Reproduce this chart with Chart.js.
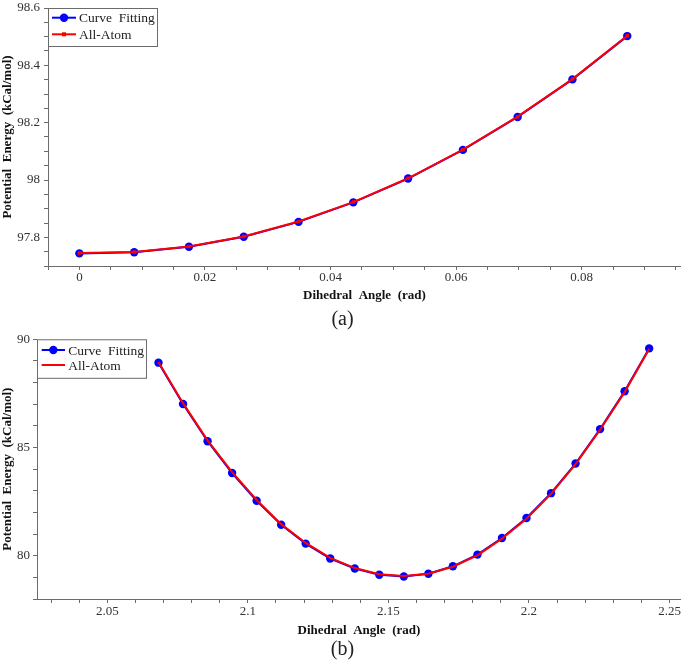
<!DOCTYPE html>
<html>
<head>
<meta charset="utf-8">
<script src="https://cdn.jsdelivr.net/npm/chart.js@4.4.1/dist/chart.umd.min.js"></script>
<style>
  body { margin:0; background:#fff; width:685px; height:664px; overflow:hidden; position:relative; font-family:"Liberation Serif","Times New Roman",serif; }
  canvas { position:absolute; left:0; }
  #chart-a { top:0; }
  #chart-b { top:330px; }
  .cap { position:absolute; left:0; width:685px; text-align:center; font-size:20px; line-height:20px; color:#222; }
</style>
</head>
<body>
<canvas id="chart-a" width="685" height="308"></canvas>
<div class="cap" style="top:308px">(a)</div>
<canvas id="chart-b" width="685" height="308"></canvas>
<div class="cap" style="top:638px">(b)</div>
<script>
// (a) small angles, (b) around the minimum
const angleA = [0, 0.00873, 0.01745, 0.02618, 0.03491, 0.04363, 0.05236, 0.06109, 0.06981, 0.07854, 0.08727];
const fitA   = [97.744, 97.748, 97.767, 97.802, 97.854, 97.922, 98.005, 98.105, 98.220, 98.351, 98.502];
const atomA  = [97.745, 97.749, 97.768, 97.803, 97.855, 97.923, 98.006, 98.106, 98.221, 98.352, 98.503];

const angleB = [2.06821, 2.07694, 2.08567, 2.09440, 2.10312, 2.11185, 2.12057, 2.12930, 2.13803, 2.14675, 2.15548,
                2.16421, 2.17293, 2.18166, 2.19039, 2.19911, 2.20784, 2.21657, 2.22529, 2.23402, 2.24275];
const fitB   = [88.92, 87.01, 85.29, 83.82, 82.54, 81.43, 80.56, 79.87, 79.41, 79.12, 79.04,
                79.17, 79.51, 80.05, 80.82, 81.74, 82.89, 84.26, 85.85, 87.60, 89.58];
const atomB  = [88.95, 87.05, 85.33, 83.86, 82.58, 81.46, 80.59, 79.90, 79.43, 79.14, 79.06,
                79.17, 79.49, 80.02, 80.79, 81.71, 82.86, 84.23, 85.82, 87.56, 89.55];

const xTicksA = [0, 0.02, 0.04, 0.06, 0.08];
const yTicksA = [97.8, 98, 98.2, 98.4, 98.6];
const xTicksB = [2.05, 2.1, 2.15, 2.2, 2.25];
const yTicksB = [80, 85, 90];

const SERIF = '"Liberation Serif", "Times New Roman", serif';
const AXIS = '#6b6b6b';
const BLUE = '#0000ff';
const RED = '#ff0000';

function pts(xs, ys) { return xs.map((x, i) => ({ x, y: ys[i] })); }

// every minor step gets a tick mark, only the listed values get a label
function minorTicks(min, max, step) {
  const out = [];
  const k0 = Math.ceil(min / step - 1e-6), k1 = Math.floor(max / step + 1e-6);
  for (let k = k0; k <= k1; k++) out.push({ value: +(k * step).toFixed(6) });
  return out;
}

function axis(o) {
  return {
    type: 'linear', position: o.pos, min: o.min, max: o.max,
    border: { display: true, color: AXIS, width: 1 },
    grid: { display: true, drawOnChartArea: false, drawTicks: true, tickLength: 4, color: AXIS, lineWidth: 1 },
    ticks: {
      autoSkip: false, maxRotation: 0, minRotation: 0, padding: o.pad, color: '#333',
      font: { family: SERIF, size: 13 },
      callback: v => { const m = o.labels.find(t => Math.abs(t - v) < 1e-7); return m === undefined ? '' : String(m); }
    },
    title: { display: true, text: o.title, color: '#111', font: { family: SERIF, size: 13, weight: 'bold' }, padding: o.tpad },
    afterBuildTicks: s => { s.ticks = minorTicks(o.min, o.max, o.step); },
    afterFit: s => {
      if (o.pos === 'left') s.width = o.size; else s.height = o.size;
      s.paddingLeft = s.paddingRight = s.paddingTop = s.paddingBottom = 0;
    }
  };
}

// legend box sitting in the top-left corner of the plot
const boxLegend = {
  id: 'boxLegend',
  afterDraw(chart, args, opts) {
    const { ctx, chartArea } = chart;
    const x0 = chartArea.left, y0 = chartArea.top;
    ctx.save();
    ctx.fillStyle = '#fff';
    ctx.fillRect(x0, y0, opts.w, opts.h);
    ctx.strokeStyle = AXIS; ctx.lineWidth = 1;
    ctx.strokeRect(x0 + 0.5, y0 + 0.5, opts.w - 1, opts.h);
    ctx.font = '13.5px ' + SERIF;
    ctx.textBaseline = 'middle';
    chart.data.datasets.forEach((ds, i) => {
      const y = y0 + opts.rows[i];
      ctx.strokeStyle = ds.borderColor; ctx.lineWidth = 2;
      ctx.beginPath(); ctx.moveTo(x0 + opts.l0, y); ctx.lineTo(x0 + opts.l1, y); ctx.stroke();
      const mx = x0 + (opts.l0 + opts.l1) / 2;
      ctx.fillStyle = ds.pointBackgroundColor;
      if (ds.pointRadius > 0 && ds.pointStyle === 'circle') {
        ctx.beginPath(); ctx.arc(mx, y, 4.2, 0, Math.PI * 2); ctx.fill();
      } else if (ds.pointRadius > 0) {
        ctx.fillRect(mx - 2, y - 2, 4, 4);
      }
      ctx.fillStyle = '#222';
      ctx.fillText(ds.label, x0 + opts.tx, y + 1);
    });
    ctx.restore();
  }
};

function buildChart(id, cfg) {
  return new Chart(document.getElementById(id).getContext('2d'), {
    type: 'line',
    data: {
      datasets: [
        { label: 'Curve  Fitting', data: cfg.fit, borderColor: BLUE, backgroundColor: BLUE, borderWidth: 2,
          pointStyle: 'circle', pointRadius: 4.2, pointBackgroundColor: BLUE, pointBorderWidth: 0, order: 2 },
        { label: 'All-Atom', data: cfg.atom, borderColor: RED, backgroundColor: RED, borderWidth: 2,
          pointStyle: 'rect', pointRadius: cfg.redPts, pointBackgroundColor: RED, pointBorderWidth: 0, order: 1 }
      ]
    },
    options: {
      responsive: false, devicePixelRatio: 1, animation: false,
      layout: { padding: { top: cfg.top, right: 1, left: 0, bottom: 0 } },
      plugins: { legend: { display: false }, tooltip: { enabled: false }, boxLegend: cfg.legend },
      scales: { x: cfg.x, y: cfg.y }
    },
    plugins: [boxLegend]
  });
}

buildChart('chart-a', {
  fit: pts(angleA, fitA), atom: pts(angleA, atomA), redPts: 2.5, top: 8,
  legend: { w: 110, h: 38, rows: [9.7, 26.3], l0: 4, l1: 28, tx: 31 },
  x: axis({ pos: 'bottom', min: -0.005, max: 0.0958, step: 0.005, labels: xTicksA, pad: 0, size: 42,
            title: 'Dihedral  Angle  (rad)', tpad: { top: 0, bottom: 5 } }),
  y: axis({ pos: 'left', min: 97.7, max: 98.6, step: 0.05, labels: yTicksA, pad: 4, size: 48,
            title: 'Potential  Energy  (kCal/mol)', tpad: { top: 0, bottom: 0 } })
});

buildChart('chart-b', {
  fit: pts(angleB, fitB), atom: pts(angleB, atomB), redPts: 0, top: 9.3,
  legend: { w: 110, h: 38.5, rows: [10.7, 25.7], l0: 4.7, l1: 28, tx: 31.3 },
  x: axis({ pos: 'bottom', min: 2.025, max: 2.254, step: 0.01, labels: xTicksB, pad: 1, size: 39,
            title: 'Dihedral  Angle  (rad)', tpad: { top: 0, bottom: 0 } }),
  y: axis({ pos: 'left', min: 78, max: 90, step: 1, labels: yTicksB, pad: 3, size: 37,
            title: 'Potential  Energy  (kCal/mol)', tpad: { top: 0, bottom: 0 } })
});
</script>
</body>
</html>
